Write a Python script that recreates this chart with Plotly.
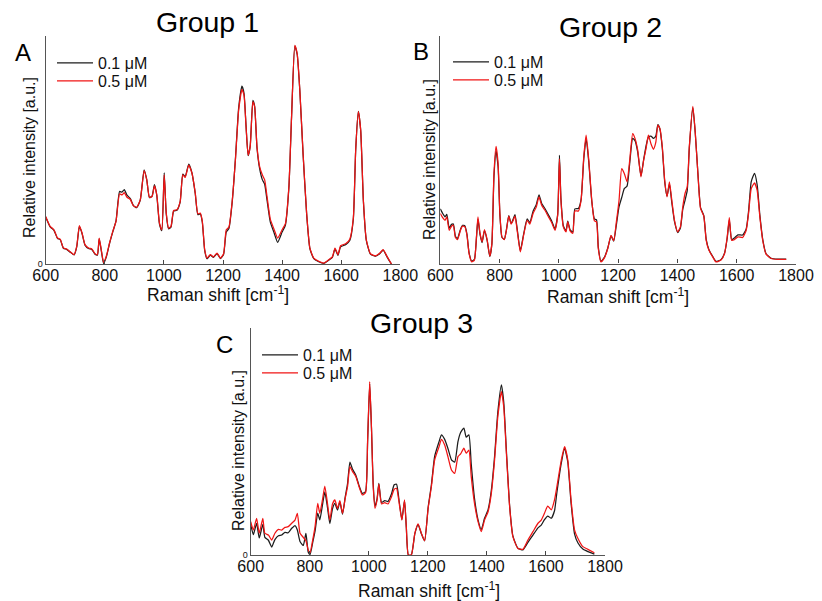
import plotly.graph_objects as go

# ---------------- data ----------------
# Panel A / Group 1
a_x = [600, 615, 628, 640, 649, 660, 671, 685, 696, 705, 714, 723, 733, 745, 756, 767, 775, 781, 788, 796,
       805, 816, 827, 838, 850, 858, 866, 875, 886, 897, 908, 920, 933, 942, 951, 960, 968, 976, 985, 993,
       1001, 1008, 1016, 1024, 1033, 1044, 1055, 1064, 1072, 1084, 1095, 1106, 1115, 1123, 1130, 1138, 1146, 1157, 1168, 1180,
       1191, 1202, 1211, 1220, 1231, 1242, 1253, 1264, 1271, 1278, 1285, 1292, 1301, 1307, 1315, 1324, 1333, 1341, 1349, 1360,
       1372, 1385, 1400, 1411, 1423, 1432, 1443, 1451, 1460, 1471, 1483, 1494, 1507, 1524, 1541, 1558, 1570, 1579, 1589, 1598,
       1615, 1629, 1641, 1649, 1658, 1666, 1675, 1685, 1699, 1716, 1731, 1742, 1756, 1770]
a_red = [20.8, 16.5, 15.0, 11.4, 10.9, 7.0, 6.6, 5.1, 4.1, 7.7, 16.8, 13.6, 8.5, 7.0, 6.6, 4.5, 4.1, 11.4, 6.3, 0.7,
         3.4, 9.2, 14.3, 18.7, 30.8, 30.3, 31.3, 29.3, 28.4, 25.5, 24.9, 28.1, 41.0, 36.9, 29.3, 29.6, 34.3, 30.3, 17.9, 15.0,
         39.1, 22.3, 15.7, 16.5, 23.5, 23.8, 27.4, 39.1, 38.0, 43.4, 39.8, 31.3, 22.0, 22.3, 18.7, 6.3, 2.6, 4.1, 3.1, 4.8,
         2.6, 4.5, 15.0, 16.2, 27.4, 45.6, 67.5, 76.5, 74.1, 60.2, 47.8, 51.5, 71.1, 69.0, 51.5, 42.7, 39.1, 36.9, 29.6, 19.7,
         15.5, 11.4, 15.0, 17.6, 34.0, 64.6, 95.9, 92.3, 76.2, 48.5, 22.3, 7.0, 2.6, 1.2, 0.4, 1.9, 3.1, 7.0, 4.1, 8.0,
         8.9, 10.9, 20.1, 50.0, 66.8, 58.7, 28.1, 10.6, 4.5, 3.6, 4.8, 6.3, 3.1, 0.0]
a_black = [20.6, 16.3, 14.8, 11.2, 10.7, 6.9, 6.4, 5.0, 4.0, 7.5, 16.5, 13.4, 8.3, 6.8, 6.4, 4.3, 3.9, 11.0, 6.0, 0.2,
           3.0, 9.0, 14.1, 18.9, 31.8, 31.5, 32.6, 30.2, 28.8, 25.6, 24.7, 28.0, 41.3, 37.0, 29.1, 29.8, 34.8, 30.0, 17.5, 14.6,
           40.0, 22.0, 15.4, 16.2, 23.2, 23.6, 27.2, 39.4, 38.3, 43.8, 39.9, 31.0, 21.6, 22.0, 18.4, 6.0, 2.3, 3.9, 2.9, 4.6,
           2.4, 4.2, 14.0, 15.6, 27.0, 46.0, 68.5, 78.0, 75.0, 60.6, 47.5, 51.7, 71.8, 69.3, 51.0, 41.8, 37.0, 35.0, 28.0, 18.5,
           14.0, 9.5, 14.0, 17.0, 33.6, 64.4, 95.6, 92.0, 76.0, 48.2, 22.0, 6.8, 2.4, 1.0, 0.3, 1.7, 2.9, 6.6, 3.8, 7.5,
           8.5, 10.3, 19.6, 49.8, 66.9, 58.5, 27.8, 10.4, 4.3, 3.4, 4.6, 6.1, 2.9, 0.0]

# Panel B / Group 2
b_x = [600, 608, 616, 622, 630, 638, 644, 651, 658, 668, 675, 683, 690, 697, 706, 715, 722, 727, 734, 741,
       749, 758, 767, 774, 781, 788, 795, 801, 808, 816, 823, 831, 839, 845, 852, 860, 870, 881, 893, 902,
       913, 924, 933, 942, 953, 965, 976, 987, 996, 1002, 1007, 1015, 1024, 1030, 1038, 1047, 1054, 1066, 1075, 1084,
       1092, 1101, 1111, 1120, 1127, 1133, 1142, 1154, 1165, 1176, 1185, 1194, 1203, 1212, 1221, 1230, 1239, 1249, 1257, 1266,
       1277, 1286, 1295, 1302, 1311, 1319, 1327, 1334, 1341, 1349, 1357, 1365, 1373, 1381, 1390, 1401, 1410, 1418, 1426, 1433,
       1440, 1452, 1460, 1469, 1478, 1489, 1497, 1506, 1519, 1530, 1547, 1559, 1568, 1575, 1583, 1592, 1604, 1620, 1632, 1640,
       1649, 1660, 1669, 1678, 1688, 1699, 1716, 1739, 1767]
b_red = [22.0, 20.2, 19.0, 20.5, 14.6, 16.4, 16.8, 11.4, 10.5, 14.6, 16.4, 16.1, 12.4, 4.4, 0.7, 1.5, 11.7, 20.5, 13.2, 9.5,
         14.9, 10.5, 3.2, 8.8, 39.5, 51.5, 43.9, 22.0, 11.7, 10.5, 14.6, 20.8, 17.3, 18.7, 20.8, 13.9, 5.1, 12.4, 19.0, 17.3,
         22.0, 24.9, 29.3, 25.6, 23.4, 20.5, 17.9, 14.6, 21.2, 46.0, 27.8, 16.1, 13.9, 18.3, 14.3, 13.2, 23.1, 23.1, 27.8, 46.9,
         56.4, 45.4, 27.8, 18.7, 18.3, 6.6, 0.7, 2.6, 6.6, 12.4, 10.0, 18.3, 27.8, 41.7, 39.5, 35.9, 45.4, 57.1, 54.9, 49.8,
         38.1, 45.4, 51.2, 56.4, 52.5, 50.2, 53.2, 60.8, 59.3, 51.2, 36.6, 29.3, 35.9, 27.8, 19.0, 13.9, 16.1, 24.9, 31.0, 33.7,
         51.2, 69.1, 57.8, 39.5, 24.2, 20.8, 10.2, 5.9, 2.9, 0.7, 1.5, 4.4, 11.7, 20.2, 10.2, 10.5, 11.7, 11.4, 14.6, 22.0,
         32.9, 35.4, 32.2, 20.5, 10.0, 4.1, 2.2, 1.8, 1.8]
b_black = [24.0, 22.0, 20.5, 21.6, 15.6, 17.2, 17.4, 12.0, 11.0, 15.0, 16.8, 16.5, 12.8, 4.8, 1.0, 1.8, 11.2, 19.5, 12.8, 9.2,
           14.5, 10.2, 3.0, 8.5, 38.0, 49.5, 42.5, 21.5, 11.5, 10.6, 14.8, 21.0, 17.6, 19.2, 21.5, 14.6, 5.6, 12.8, 19.6, 18.0,
           23.0, 26.0, 30.2, 26.4, 24.2, 21.3, 18.6, 15.2, 21.6, 47.5, 28.5, 16.6, 14.3, 18.6, 14.8, 13.8, 24.0, 24.2, 28.2, 46.0,
           55.0, 44.5, 27.4, 19.5, 19.2, 7.2, 1.0, 2.8, 6.8, 12.2, 9.8, 17.0, 25.0, 29.0, 33.0, 34.0, 44.0, 55.0, 54.0, 49.0,
           38.5, 45.6, 52.2, 55.5, 56.0, 55.0, 56.0, 61.0, 59.0, 50.6, 36.0, 29.6, 35.0, 26.8, 18.5, 13.6, 15.6, 23.8, 28.0, 32.0,
           50.5, 68.5, 57.6, 39.8, 24.6, 21.0, 10.6, 6.2, 3.1, 0.9, 1.7, 4.6, 11.2, 19.2, 10.4, 11.2, 12.6, 12.5, 15.2, 23.0,
           36.0, 39.6, 34.6, 21.4, 10.4, 4.3, 2.3, 1.9, 1.9]

# Panel C / Group 3
c_x = [600, 609, 620, 629, 641, 648, 660, 671, 682, 694, 705, 716, 727, 739, 750, 758, 767, 778, 787, 795,
       801, 810, 818, 827, 834, 843, 851, 860, 868, 877, 885, 894, 902, 911, 920, 928, 936, 945, 956, 967,
       978, 989, 996, 1003, 1009, 1015, 1021, 1028, 1034, 1043, 1054, 1065, 1077, 1086, 1094, 1103, 1112, 1121, 1127, 1134,
       1144, 1156, 1167, 1178, 1189, 1201, 1212, 1223, 1238, 1246, 1257, 1268, 1280, 1291, 1302, 1311, 1322, 1330, 1339, 1347,
       1358, 1370, 1381, 1392, 1404, 1415, 1426, 1437, 1449, 1457, 1466, 1477, 1488, 1505, 1522, 1539, 1556, 1573, 1584, 1595,
       1606, 1618, 1629, 1637, 1652, 1663, 1674, 1685, 1697, 1708, 1725, 1742, 1764]
c_red = [14.7, 11.0, 16.2, 9.6, 16.2, 9.6, 8.8, 6.6, 9.6, 11.3, 11.0, 12.2, 12.5, 14.0, 15.4, 18.4, 9.6, 7.8, 6.3, 2.2,
         1.0, 6.6, 12.5, 22.8, 18.4, 24.3, 30.4, 22.8, 15.4, 22.5, 24.3, 20.6, 24.0, 18.4, 24.9, 30.1, 39.0, 36.8, 34.6, 30.1,
         26.5, 27.5, 50.7, 76.5, 56.6, 30.1, 20.6, 24.3, 31.3, 22.5, 23.1, 22.5, 25.7, 29.0, 29.4, 22.8, 15.4, 24.3, 12.5, 0.0,
         0.0, 9.6, 13.7, 9.6, 6.3, 20.6, 30.1, 41.9, 47.8, 51.0, 48.5, 43.4, 37.5, 36.0, 43.4, 44.6, 47.1, 44.9, 46.3, 34.6,
         22.8, 14.7, 10.3, 15.4, 19.1, 27.2, 41.9, 61.0, 72.1, 65.4, 44.9, 21.3, 8.1, 2.9, 2.5, 6.6, 10.3, 14.0, 15.4, 18.4,
         21.6, 19.9, 24.3, 30.1, 41.9, 47.8, 41.9, 24.3, 11.0, 7.4, 3.7, 2.5, 1.0]
c_black = [13.5, 9.0, 14.0, 7.5, 13.5, 7.8, 6.5, 3.5, 6.8, 8.5, 8.8, 10.0, 9.8, 11.8, 13.0, 11.0, 6.0, 4.2, 9.5, 1.2,
           0.2, 5.5, 10.5, 18.5, 15.5, 22.0, 27.8, 21.0, 13.8, 20.4, 22.8, 19.8, 23.4, 18.0, 25.5, 31.5, 41.0, 37.8, 35.2, 30.6,
           27.2, 28.0, 50.0, 75.5, 56.0, 31.0, 21.6, 24.8, 31.6, 23.2, 24.0, 23.6, 27.0, 31.0, 31.2, 23.6, 15.6, 24.0, 12.2, 0.0,
           0.0, 9.4, 13.4, 9.4, 6.2, 21.0, 31.0, 43.5, 50.0, 53.0, 51.0, 47.0, 42.0, 41.0, 50.0, 54.0, 56.0, 52.0, 53.0, 40.0,
           25.0, 15.5, 11.2, 16.2, 20.0, 28.5, 43.5, 63.0, 75.0, 67.5, 46.0, 21.8, 8.4, 3.0, 2.3, 5.6, 8.8, 12.0, 13.2, 15.6,
           17.2, 16.2, 19.5, 27.5, 40.5, 47.0, 41.0, 23.0, 9.2, 5.4, 2.6, 1.5, 0.4]

x_ticks = [600, 800, 1000, 1200, 1400, 1600, 1800]
series_names = ["0.1 μM", "0.5 μM"]
group_titles = ["Group 1", "Group 2", "Group 3"]
panel_letters = ["A", "B", "C"]

# ---------------- layout helpers ----------------
W, H = 822, 601
def px(x):
    return x / W
def py(y):
    return 1 - y / H

FONT = "Liberation Sans, Arial, sans-serif"
BLACK = "#1c1c1c"
RED = "#f01414"

# pixel boxes: (left, right, top, bottom)
boxes = [(45.7, 400.3, 36, 264), (440.3, 796, 36, 263.5), (250.7, 605, 328.3, 555)]
# legend rows: (line start x, row1 y, row2 y)
legend_rows = [(58, 63, 81), (454, 62, 80), (263, 355, 373)]

fig = go.Figure()
panels = [
    (a_x, a_black, a_red, "x", "y"),
    (b_x, b_black, b_red, "x2", "y2"),
    (c_x, c_black, c_red, "x3", "y3"),
]
leg_cfg = {}
for i, (xs, yb, yr, xa, ya) in enumerate(panels):
    lg1 = "legend" if i == 0 else f"legend{2 * i + 1}"
    lg2 = f"legend{2 * i + 2}"
    fig.add_trace(go.Scatter(x=xs, y=yb, mode="lines", name=series_names[0], showlegend=True,
                             line=dict(color=BLACK, width=1.25, shape="spline", smoothing=0.5),
                             xaxis=xa, yaxis=ya, legend=lg1))
    fig.add_trace(go.Scatter(x=xs, y=yr, mode="lines", name=series_names[1], showlegend=True,
                             line=dict(color=RED, width=1.25, shape="spline", smoothing=0.5),
                             xaxis=xa, yaxis=ya, legend=lg2))
    lx, r1, r2 = legend_rows[i]
    for key, ry in ((lg1, r1), (lg2, r2)):
        leg_cfg[key] = dict(x=px(lx - 6), y=py(ry), xanchor="left", yanchor="middle",
                            bgcolor="rgba(0,0,0,0)", borderwidth=0, visible=True,
                            font=dict(family=FONT, size=16, color="#111"),
                            itemwidth=36)


def xaxis_cfg(box, anchor):
    return dict(domain=[px(box[0]), px(box[1])], range=[600, 1800], anchor=anchor,
                tickvals=x_ticks, ticks="inside", ticklen=4, tickcolor="#444",
                showline=True, linecolor="#555", linewidth=1.2, showgrid=False, zeroline=False,
                automargin=False, ticklabelstandoff=-3,
                tickfont=dict(family=FONT, size=16, color="#111"))


def yaxis_cfg(box, anchor, show0):
    return dict(domain=[py(box[3]), py(box[2])], range=[0, 100], anchor=anchor,
                tickvals=[0], ticktext=["0"], ticks="", showticklabels=show0,
                showline=True, linecolor="#555", linewidth=1.2, showgrid=False, zeroline=False,
                automargin=False,
                tickfont=dict(family=FONT, size=9, color="#111"))


fig.update_layout(
    width=W, height=H, margin=dict(l=0, r=0, t=0, b=0, autoexpand=False),
    showlegend=True,
    paper_bgcolor="white", plot_bgcolor="white",
    font=dict(family=FONT, color="#111"),
    xaxis=xaxis_cfg(boxes[0], "y"), yaxis=yaxis_cfg(boxes[0], "x", True),
    xaxis2=xaxis_cfg(boxes[1], "y2"), yaxis2=yaxis_cfg(boxes[1], "x2", False),
    xaxis3=xaxis_cfg(boxes[2], "y3"), yaxis3=yaxis_cfg(boxes[2], "x3", True),
    **leg_cfg,
)

ann = []
title_pos = [(207, 22), (610, 27), (421, 323)]
letter_pos = [(23, 52), (421, 51), (224, 344)]
xtitle_pos = [(218, 294), (618, 296), (429, 590)]
ytitle_pos = [(29, 158), (429, 160), (238, 450)]
for i in range(3):
    ann.append(dict(text=group_titles[i], x=px(title_pos[i][0]), y=py(title_pos[i][1]),
                    xref="paper", yref="paper", showarrow=False, xanchor="center", yanchor="middle",
                    font=dict(family=FONT, size=28.5, color="#000")))
    ann.append(dict(text=panel_letters[i], x=px(letter_pos[i][0]), y=py(letter_pos[i][1]),
                    xref="paper", yref="paper", showarrow=False, xanchor="center", yanchor="middle",
                    font=dict(family=FONT, size=24, color="#000")))
    ann.append(dict(text="Raman shift [cm<sup>-1</sup>]", x=px(xtitle_pos[i][0]), y=py(xtitle_pos[i][1]),
                    xref="paper", yref="paper", showarrow=False, xanchor="center", yanchor="middle",
                    font=dict(family=FONT, size=17.5, color="#111")))
    ann.append(dict(text="Relative intensity [a.u.]", x=px(ytitle_pos[i][0]), y=py(ytitle_pos[i][1]),
                    xref="paper", yref="paper", showarrow=False, xanchor="center", yanchor="middle",
                    textangle=-90, font=dict(family=FONT, size=16, color="#111")))
fig.update_layout(annotations=ann)

fig.write_html("out.html", config={"displayModeBar": False},
               post_script="document.body.style.margin='0';")
